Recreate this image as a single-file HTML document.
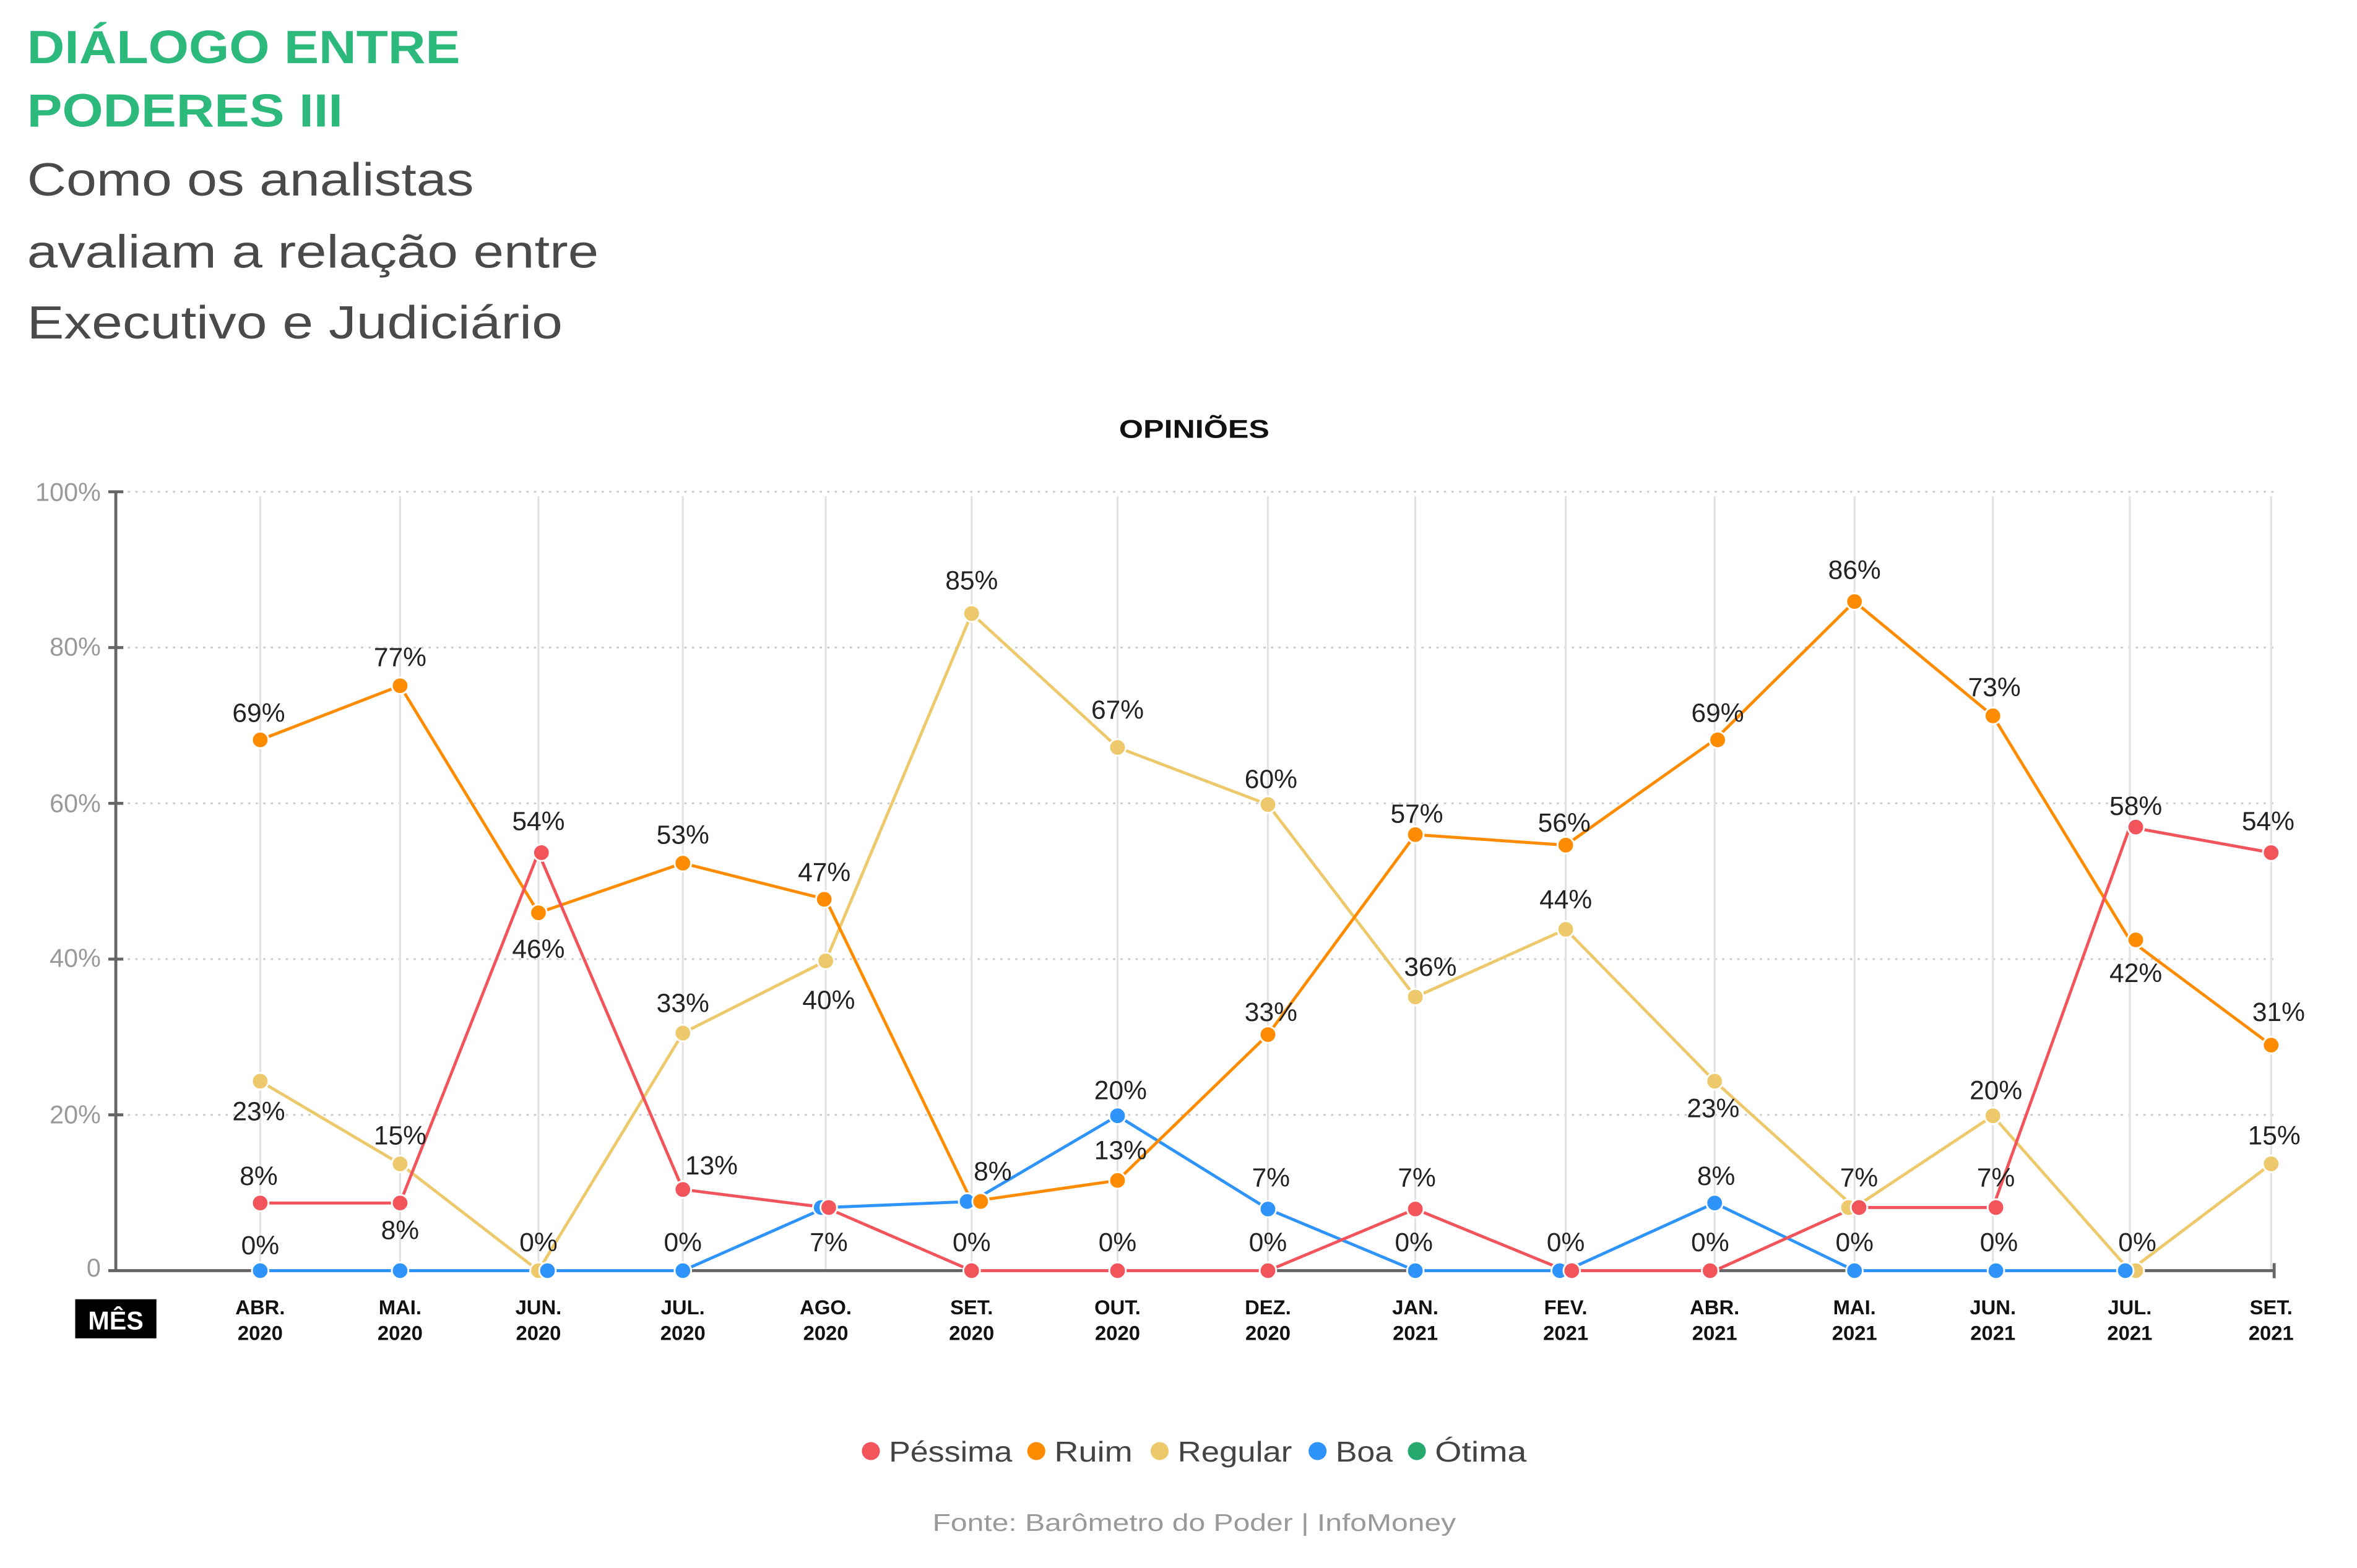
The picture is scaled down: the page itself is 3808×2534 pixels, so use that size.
<!DOCTYPE html>
<html><head><meta charset="utf-8"><style>
html,body{margin:0;padding:0;background:#fff;}
svg{display:block;}
text{font-family:"Liberation Sans",sans-serif;}
</style></head><body>
<svg width="3808" height="2534" viewBox="0 0 3808 2534" xmlns="http://www.w3.org/2000/svg">
<rect width="3808" height="2534" fill="#fff"/>
<g transform="translate(0,5) scale(2.43)">
<!-- titles -->
<text x="18" y="40" font-size="31" font-weight="bold" fill="#2DB87C" textLength="288" lengthAdjust="spacingAndGlyphs">DIÁLOGO ENTRE</text>
<text x="18" y="82" font-size="31" font-weight="bold" fill="#2DB87C" textLength="210" lengthAdjust="spacingAndGlyphs">PODERES III</text>
<text x="18" y="128" font-size="31" fill="#4a4a4a" textLength="297" lengthAdjust="spacingAndGlyphs">Como os analistas</text>
<text x="18" y="176" font-size="31" fill="#4a4a4a" textLength="380" lengthAdjust="spacingAndGlyphs">avaliam a relação entre</text>
<text x="18" y="223" font-size="31" fill="#4a4a4a" textLength="356" lengthAdjust="spacingAndGlyphs">Executivo e Judiciário</text>
<text x="794" y="289" font-size="17" font-weight="bold" fill="#111" text-anchor="middle" textLength="100" lengthAdjust="spacingAndGlyphs">OPINIÕES</text>

<!-- grid -->
<g stroke="#ccc" stroke-width="1.2" stroke-dasharray="1.5 3.5">
<line x1="80" y1="325" x2="1515" y2="325"/><line x1="80" y1="428.6" x2="1515" y2="428.6"/>
<line x1="80" y1="532.2" x2="1515" y2="532.2"/><line x1="80" y1="635.8" x2="1515" y2="635.8"/>
<line x1="80" y1="739.4" x2="1515" y2="739.4"/>
</g>
<g stroke="#e2e2e2" stroke-width="1.3">
<line x1="173" y1="328" x2="173" y2="843"/><line x1="266" y1="328" x2="266" y2="843"/>
<line x1="358" y1="328" x2="358" y2="843"/><line x1="454" y1="328" x2="454" y2="843"/>
<line x1="549" y1="328" x2="549" y2="843"/><line x1="646" y1="328" x2="646" y2="843"/>
<line x1="743" y1="328" x2="743" y2="843"/><line x1="843" y1="328" x2="843" y2="843"/>
<line x1="941" y1="328" x2="941" y2="843"/><line x1="1041" y1="328" x2="1041" y2="843"/>
<line x1="1140" y1="328" x2="1140" y2="843"/><line x1="1233" y1="328" x2="1233" y2="843"/>
<line x1="1325" y1="328" x2="1325" y2="843"/><line x1="1416" y1="328" x2="1416" y2="843"/>
<line x1="1510" y1="328" x2="1510" y2="843"/>
</g>
<!-- axes -->
<g stroke="#666" stroke-width="2">
<line x1="77" y1="325" x2="77" y2="843"/>
<line x1="72" y1="843" x2="1512" y2="843"/>
<line x1="1512" y1="838" x2="1512" y2="848"/>
<line x1="72" y1="325" x2="82" y2="325"/><line x1="72" y1="428.6" x2="82" y2="428.6"/>
<line x1="72" y1="532.2" x2="82" y2="532.2"/><line x1="72" y1="635.8" x2="82" y2="635.8"/>
<line x1="72" y1="739.4" x2="82" y2="739.4"/>
</g>
<g font-size="17" fill="#999" text-anchor="end">
<text x="67" y="331">100%</text><text x="67" y="434">80%</text><text x="67" y="538">60%</text>
<text x="67" y="641">40%</text><text x="67" y="745">20%</text><text x="67" y="847">0</text>
</g>
<!-- x labels -->
<rect x="50" y="862" width="54" height="26" fill="#000"/>
<text x="77" y="882" font-size="17" font-weight="bold" fill="#fff" text-anchor="middle">MÊS</text>
<g font-size="13.5" font-weight="bold" fill="#111" text-anchor="middle">
<text x="173" y="872">ABR.</text><text x="173" y="889">2020</text>
<text x="266" y="872">MAI.</text><text x="266" y="889">2020</text>
<text x="358" y="872">JUN.</text><text x="358" y="889">2020</text>
<text x="454" y="872">JUL.</text><text x="454" y="889">2020</text>
<text x="549" y="872">AGO.</text><text x="549" y="889">2020</text>
<text x="646" y="872">SET.</text><text x="646" y="889">2020</text>
<text x="743" y="872">OUT.</text><text x="743" y="889">2020</text>
<text x="843" y="872">DEZ.</text><text x="843" y="889">2020</text>
<text x="941" y="872">JAN.</text><text x="941" y="889">2021</text>
<text x="1041" y="872">FEV.</text><text x="1041" y="889">2021</text>
<text x="1140" y="872">ABR.</text><text x="1140" y="889">2021</text>
<text x="1233" y="872">MAI.</text><text x="1233" y="889">2021</text>
<text x="1325" y="872">JUN.</text><text x="1325" y="889">2021</text>
<text x="1416" y="872">JUL.</text><text x="1416" y="889">2021</text>
<text x="1510" y="872">SET.</text><text x="1510" y="889">2021</text>
</g>

<!-- series lines -->
<g fill="none" stroke-width="2" stroke-linejoin="round">
<polyline stroke="#EDC96B" points="173,717 266,772 358,843 454,685 549,637 646,406 743,495 843,533 941,661 1041,616 1140,717 1233,801 1325,740 1416,843 1510,772"/>
<polyline stroke="#2E93FA" points="173,843 266,843 358,843 454,843 549,801 646,797 743,740 843,802 941,843 1041,843 1140,798 1233,843 1325,843 1416,843"/>
<polyline stroke="#FF8C00" points="173,490 266,454 358,605 454,572 549,596 646,797 743,783 843,686 941,553 1041,560 1140,490 1233,398 1325,474 1416,623 1510,693"/>
<polyline stroke="#F2545B" points="173,798 266,798 358,565 454,789 549,801 646,843 743,843 843,843 941,802 1041,843 1140,843 1233,801 1325,801 1416,548 1510,565"/>
</g>
<!-- markers -->
<g stroke="#fff" stroke-width="1.2">
<g fill="#EDC96B">
<circle cx="173" cy="717" r="5.5"/><circle cx="266" cy="772" r="5.5"/><circle cx="358" cy="843" r="5.5"/><circle cx="454" cy="685" r="5.5"/><circle cx="549" cy="637" r="5.5"/><circle cx="646" cy="406" r="5.5"/><circle cx="743" cy="495" r="5.5"/><circle cx="843" cy="533" r="5.5"/><circle cx="941" cy="661" r="5.5"/><circle cx="1041" cy="616" r="5.5"/><circle cx="1140" cy="717" r="5.5"/><circle cx="1229" cy="801" r="5.5"/><circle cx="1325" cy="740" r="5.5"/><circle cx="1420" cy="843" r="5.5"/><circle cx="1510" cy="772" r="5.5"/>
</g>
<g fill="#2E93FA">
<circle cx="173" cy="843" r="5.5"/><circle cx="266" cy="843" r="5.5"/><circle cx="364" cy="843" r="5.5"/><circle cx="454" cy="843" r="5.5"/><circle cx="546" cy="801" r="5.5"/><circle cx="643" cy="797" r="5.5"/><circle cx="743" cy="740" r="5.5"/><circle cx="843" cy="802" r="5.5"/><circle cx="941" cy="843" r="5.5"/><circle cx="1037" cy="843" r="5.5"/><circle cx="1140" cy="798" r="5.5"/><circle cx="1233" cy="843" r="5.5"/><circle cx="1327" cy="843" r="5.5"/><circle cx="1413" cy="843" r="5.5"/>
</g>
<g fill="#FF8C00">
<circle cx="173" cy="490" r="5.5"/><circle cx="266" cy="454" r="5.5"/><circle cx="358" cy="605" r="5.5"/><circle cx="454" cy="572" r="5.5"/><circle cx="548" cy="596" r="5.5"/><circle cx="652" cy="797" r="5.5"/><circle cx="743" cy="783" r="5.5"/><circle cx="843" cy="686" r="5.5"/><circle cx="941" cy="553" r="5.5"/><circle cx="1041" cy="560" r="5.5"/><circle cx="1142" cy="490" r="5.5"/><circle cx="1233" cy="398" r="5.5"/><circle cx="1325" cy="474" r="5.5"/><circle cx="1420" cy="623" r="5.5"/><circle cx="1510" cy="693" r="5.5"/>
</g>
<g fill="#F2545B">
<circle cx="173" cy="798" r="5.5"/><circle cx="266" cy="798" r="5.5"/><circle cx="360" cy="565" r="5.5"/><circle cx="454" cy="789" r="5.5"/><circle cx="551" cy="801" r="5.5"/><circle cx="646" cy="843" r="5.5"/><circle cx="743" cy="843" r="5.5"/><circle cx="843" cy="843" r="5.5"/><circle cx="941" cy="802" r="5.5"/><circle cx="1045" cy="843" r="5.5"/><circle cx="1137" cy="843" r="5.5"/><circle cx="1236" cy="801" r="5.5"/><circle cx="1327" cy="801" r="5.5"/><circle cx="1420" cy="548" r="5.5"/><circle cx="1510" cy="565" r="5.5"/>
</g>
</g>

<!-- data labels -->
<g font-size="17.5" fill="#222" text-anchor="middle">
<text x="172" y="478">69%</text><text x="172" y="743">23%</text><text x="172" y="786">8%</text><text x="173" y="832">0%</text>
<text x="266" y="441">77%</text><text x="266" y="759">15%</text><text x="266" y="822">8%</text>
<text x="358" y="550">54%</text><text x="358" y="635">46%</text><text x="358" y="830">0%</text>
<text x="454" y="559">53%</text><text x="454" y="671">33%</text><text x="473" y="779">13%</text><text x="454" y="830">0%</text>
<text x="548" y="584">47%</text><text x="551" y="669">40%</text><text x="551" y="830">7%</text>
<text x="646" y="390">85%</text><text x="660" y="783">8%</text><text x="646" y="830">0%</text>
<text x="743" y="476">67%</text><text x="745" y="729">20%</text><text x="745" y="769">13%</text><text x="743" y="830">0%</text>
<text x="845" y="522">60%</text><text x="845" y="677">33%</text><text x="845" y="787">7%</text><text x="843" y="830">0%</text>
<text x="942" y="545">57%</text><text x="951" y="647">36%</text><text x="942" y="787">7%</text><text x="940" y="830">0%</text>
<text x="1040" y="551">56%</text><text x="1041" y="602">44%</text><text x="1041" y="830">0%</text>
<text x="1142" y="478">69%</text><text x="1139" y="741">23%</text><text x="1141" y="786">8%</text><text x="1137" y="830">0%</text>
<text x="1233" y="383">86%</text><text x="1236" y="787">7%</text><text x="1233" y="830">0%</text>
<text x="1326" y="461">73%</text><text x="1327" y="729">20%</text><text x="1327" y="787">7%</text><text x="1329" y="830">0%</text>
<text x="1420" y="540">58%</text><text x="1420" y="651">42%</text><text x="1421" y="830">0%</text>
<text x="1508" y="550">54%</text><text x="1515" y="677">31%</text><text x="1512" y="759">15%</text>
</g>

<!-- legend -->
<g font-size="19" fill="#444">
<circle cx="579" cy="963" r="6" fill="#F2545B"/><text x="591" y="970" textLength="82" lengthAdjust="spacingAndGlyphs">Péssima</text>
<circle cx="689" cy="963" r="6" fill="#FF8C00"/><text x="701" y="970" textLength="52" lengthAdjust="spacingAndGlyphs">Ruim</text>
<circle cx="771" cy="963" r="6" fill="#EDC96B"/><text x="783" y="970" textLength="76" lengthAdjust="spacingAndGlyphs">Regular</text>
<circle cx="876" cy="963" r="6" fill="#2E93FA"/><text x="888" y="970" textLength="38" lengthAdjust="spacingAndGlyphs">Boa</text>
<circle cx="942" cy="963" r="6" fill="#26A96C"/><text x="954" y="970" textLength="61" lengthAdjust="spacingAndGlyphs">Ótima</text>
</g>
<text x="794" y="1016" font-size="16" fill="#999" text-anchor="middle" textLength="348" lengthAdjust="spacingAndGlyphs">Fonte: Barômetro do Poder | InfoMoney</text>
</g>
</svg>
</body></html>
